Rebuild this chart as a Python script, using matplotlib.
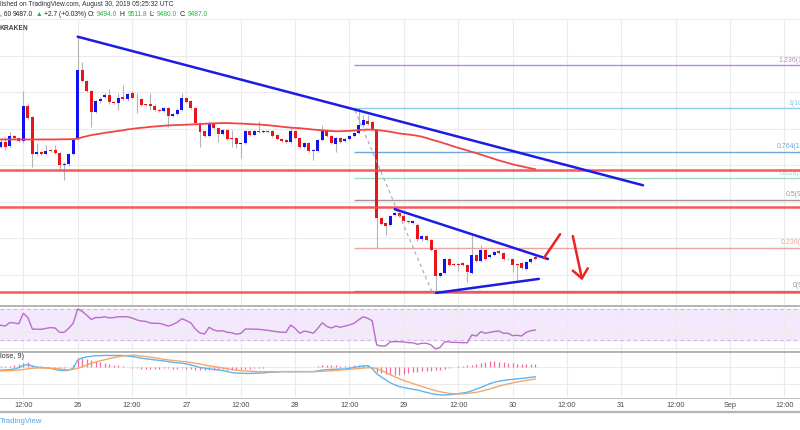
import matplotlib
matplotlib.use('Agg')
import matplotlib.pyplot as plt
from matplotlib.lines import Line2D
import numpy as np

plt.rcParams['font.family'] = ['Liberation Sans', 'DejaVu Sans']

# BTC/USD hourly candles on Kraken, Aug 25 07:00 .. Aug 30 05:00 UTC
opens = [10098, 10126, 10102, 10157, 10146, 10131, 10326, 10261, 10059, 10069,
         10062, 10083, 10084, 10066, 9998, 10004, 10062, 10144, 10518, 10459,
         10408, 10293, 10348, 10372, 10385, 10344, 10341, 10375, 10359, 10394,
         10363, 10363, 10332, 10336, 10326, 10303, 10295, 10314, 10268, 10281,
         10304, 10368, 10348, 10312, 10232, 10184, 10159, 10232, 10202, 10172,
         10190, 10150, 10150, 10113, 10120, 10184, 10162, 10184, 10182, 10184,
         10184, 10162, 10144, 10135, 10126, 10184, 10150, 10098, 10120, 10077,
         10077, 10135, 10190, 10157, 10117, 10150, 10131, 10144, 10159, 10175,
         10217, 10240, 10235, 10193, 9707, 9683, 9671, 9725, 9735, 9720,
         9694, 9683, 9674, 9592, 9611, 9589, 9534, 9392, 9410, 9483,
         9457, 9457, 9461, 9452, 9410, 9507, 9476, 9534, 9494, 9507,
         9530, 9516, 9486, 9486, 9457, 9461, 9429, 9470, 9494]
highs = [10140, 10153, 10180, 10165, 10152, 10403, 10332, 10266, 10119, 10076,
         10108, 10088, 10108, 10071, 10015, 10068, 10144, 10703, 10567, 10465,
         10413, 10355, 10370, 10397, 10419, 10350, 10392, 10436, 10396, 10408,
         10392, 10369, 10337, 10392, 10332, 10309, 10320, 10320, 10287, 10310,
         10397, 10375, 10354, 10318, 10238, 10190, 10240, 10238, 10208, 10196,
         10196, 10190, 10156, 10126, 10190, 10190, 10190, 10239, 10190, 10190,
         10190, 10168, 10150, 10141, 10201, 10190, 10156, 10126, 10126, 10090,
         10141, 10217, 10196, 10163, 10156, 10156, 10150, 10165, 10181, 10310,
         10272, 10272, 10241, 10199, 9713, 9689, 9726, 9741, 9741, 9753,
         9700, 9700, 9680, 9617, 9617, 9595, 9540, 9416, 9489, 9489,
         9463, 9463, 9467, 9458, 9616, 9513, 9561, 9540, 9513, 9531,
         9536, 9522, 9492, 9492, 9463, 9467, 9476, 9489, 9511.8]
lows = [10091, 10084, 10098, 10141, 10124, 10119, 10252, 9989, 10053, 10053,
        10057, 10073, 10062, 9971, 9916, 9993, 10057, 10139, 10455, 10400,
        10208, 10287, 10342, 10366, 10337, 10333, 10299, 10357, 10353, 10362,
        10283, 10324, 10322, 10299, 10297, 10289, 10289, 10208, 10262, 10275,
        10298, 10338, 10308, 10226, 10098, 10153, 10153, 10196, 10126, 10166,
        10138, 10098, 10091, 10037, 10114, 10157, 10157, 10175, 10177, 10175,
        10153, 10138, 10125, 10120, 10120, 10144, 10092, 10092, 10071, 10026,
        10071, 10129, 10151, 10114, 10071, 10120, 10125, 10138, 10153, 10169,
        10211, 10220, 10193, 9545, 9670, 9616, 9665, 9719, 9714, 9688,
        9683, 9677, 9586, 9586, 9583, 9528, 9310, 9386, 9404, 9446,
        9446, 9420, 9446, 9361, 9404, 9470, 9470, 9477, 9488, 9501,
        9510, 9477, 9477, 9415, 9370, 9428, 9423, 9464, 9480]
closes = [10126, 10098, 10157, 10146, 10131, 10326, 10259, 10059, 10069, 10059,
          10077, 10078, 10066, 10000, 10004, 10062, 10139, 10518, 10463, 10408,
          10293, 10348, 10363, 10381, 10343, 10339, 10368, 10363, 10390, 10368,
          10359, 10330, 10328, 10325, 10303, 10295, 10314, 10268, 10281, 10304,
          10368, 10344, 10314, 10232, 10180, 10159, 10232, 10202, 10172, 10190,
          10144, 10144, 10113, 10120, 10184, 10162, 10184, 10180, 10184, 10180,
          10159, 10144, 10131, 10126, 10184, 10150, 10098, 10120, 10077, 10084,
          10135, 10190, 10157, 10120, 10150, 10126, 10144, 10159, 10175, 10217,
          10244, 10226, 10199, 9707, 9676, 9665, 9720, 9735, 9720, 9694,
          9689, 9694, 9592, 9611, 9589, 9534, 9392, 9410, 9483, 9452,
          9452, 9452, 9452, 9415, 9507, 9476, 9534, 9483, 9507, 9525,
          9516, 9483, 9483, 9452, 9452, 9434, 9470, 9483, 9487]

# 100 hour moving average (red curve)
ma = [10140, 10140, 10140, 10140, 10140, 10140, 10140, 10140, 10140, 10140,
      10140, 10140, 10140, 10141, 10141, 10141, 10142, 10144, 10152, 10158,
      10164, 10168, 10172, 10176, 10180, 10183, 10187, 10190, 10195, 10198,
      10201, 10204, 10206, 10209, 10211, 10213, 10215, 10217, 10218, 10219,
      10220, 10221, 10222, 10223, 10224, 10226, 10227, 10228, 10229, 10230,
      10230, 10229, 10228, 10227, 10226, 10224, 10223, 10222, 10220, 10218,
      10215, 10213, 10210, 10207, 10205, 10203, 10202, 10199, 10197, 10194,
      10192, 10190, 10188, 10186, 10185, 10185, 10186, 10187, 10189, 10191,
      10193, 10194, 10194, 10192, 10189, 10186, 10182, 10178, 10173, 10170,
      10167, 10164, 10160, 10155, 10148, 10140, 10133, 10126, 10118, 10110,
      10102, 10094, 10087, 10080, 10072, 10065, 10057, 10049, 10041, 10033,
      10025, 10018, 10011, 10004, 9998, 9993, 9987, 9982, 9977]

rsi = [49, 48, 52.5, 52, 51, 64.5, 59, 44, 44, 43.8,
       45, 46, 45.5, 40, 40, 45, 51.5, 70, 67, 62,
       56.5, 59, 59, 60, 58.5, 59, 60, 60, 60, 58.4,
       56, 54.5, 54, 52, 51.5, 51.5, 50, 48, 50, 53,
       57.5, 55, 52, 44, 39, 37.8, 46.4, 43, 41.5, 42,
       40, 39.4, 37.4, 38.5, 44.2, 44.2, 44, 43.8, 43, 42.5,
       41.6, 40.7, 40, 40, 49.4, 45, 38.7, 41.5, 40.5, 38.7,
       45, 52.3, 47.5, 45.5, 48, 46.4, 48, 49.5, 51.5, 55.8,
       60, 58, 55, 23.6, 22.3, 22.3, 27.8, 27.8, 27.8, 27.5,
       26.5, 26.5, 24.5, 25.8, 25.8, 23.6, 18.4, 20.6, 27.8, 27.5,
       27, 26.8, 26.5, 26.5, 36.5, 35.2, 40.7, 38.7, 39.9, 41,
       41.6, 38.7, 38.7, 35.6, 36, 35.2, 39.9, 42, 42.9]

macd = [-19, -18, -17, -12, -6, 8, 13, 3, -3, -5,
        -7, -9, -15, -20, -22, -20, -8, 38, 51, 56,
        60, 62, 63, 64, 64, 64, 64, 64, 61, 58,
        54, 49, 45, 42, 39, 36, 33, 29, 25, 22,
        20, 16, 10, 3, -4, -8, -12, -15, -18, -22,
        -27, -33, -36, -37, -38, -38, -37, -36, -35, -32,
        -31, -30, -28, -28, -28, -28, -28, -28, -28, -28,
        -24, -19, -17, -15, -14, -13, -13, -9, -4, 1,
        4, 6, -10, -40, -58, -75, -91, -103, -113, -118,
        -123, -128, -132, -139, -146, -152, -157, -160, -161, -159,
        -157, -153, -149, -145, -137, -127, -118, -107, -96, -88,
        -82, -78, -74, -72, -69, -66, -64, -60, -57]
signal = [-24, -23, -22, -21, -19, -16, -12, -9, -7, -7,
          -8, -9, -10, -13, -16, -18, -15, -9, -1, 10,
          20, 27, 34, 40, 46, 52, 57, 61, 64, 65,
          64, 61, 58, 55, 51, 47, 42, 39, 36, 33,
          30, 28, 24, 19, 15, 10, 5, 1, -3, -7,
          -11, -16, -19, -22, -24, -26, -27, -28, -28, -28,
          -28, -28, -28, -28, -28, -28, -28, -28, -28, -28,
          -27, -26, -24, -23, -21, -19, -17, -15, -13, -10,
          -8, -6, -5, -11, -21, -33, -45, -57, -68, -78,
          -87, -96, -104, -112, -121, -129, -136, -142, -147, -151,
          -154, -155, -154, -152, -149, -145, -140, -133, -126, -118,
          -110, -104, -98, -92, -87, -82, -78, -74, -70]

# time axis (candle index, hour 0 = Aug 25 07:00)
time_ticks = [5, 17, 29, 41, 53, 65, 77, 89, 101, 113, 125, 137, 149, 161, 173]
time_labels = ['12:00', '26', '12:00', '27', '12:00', '28', '12:00', '29',
               '12:00', '30', '12:00', '31', '12:00', 'Sep', '12:00']

# fibonacci retracement drawn from the Aug 28 high to the Aug 29 low
fib_low, fib_high = 9310, 10310
fib_ratios = ['1.236', '1', '0.764', '0.618', '0.5', '0.236', '0']
fib_colors = ['#b98ad8', '#8ccbf0', '#6fa6da', '#9fdcbc', '#a39494', '#eea3a3', '#9a9a9a']
fib_label_x = [171.6, 174.0, 171.4, 172.0, 173.4, 172.3, 174.9]
fib_start = 78

support_levels = [9971, 9772, 9305]

trend_main = ([17, 141.8], [10703, 9889])
trend_upper = ([87.0, 120.8], [9758, 9485])
trend_lower = ([96.1, 118.8], [9299, 9376])
fib_swing = ([78.2, 95.2], [10299, 9305])
arrow_up = ([119.9, 123.5], [9490, 9621])
arrow_down = ([126.3, 128.3], [9611, 9379])
arrow_head = ([126.3, 128.3, 129.6], [9421, 9379, 9434])

# header pieces: text, colour
dark = '#222222'
green = '#27b445'
header_pieces = [(', 60', dark), ('9487.0', dark), ('\u25b2', green),
                 ('+2.7 (+0.03%)', dark), ('O:', dark), ('9494.0', green),
                 ('H:', dark), ('9511.8', green), ('L:', dark), ('9480.0', green),
                 ('C:', dark), ('9487.0', green)]

W, H = 800, 430
fig = plt.figure(figsize=(8, 4.3), dpi=100)


def box(top, bottom):
    return [0, 1 - bottom / H, 1, (bottom - top) / H]


def fy(py):
    return 1 - py / H


ax = fig.add_axes(box(19, 305))
ax_rsi = fig.add_axes(box(307, 351))
ax_macd = fig.add_axes(box(353, 397))

x = np.arange(len(closes))
for a in (ax, ax_rsi, ax_macd):
    a.set_xlim(-0.15, 176.45)
    for s in a.spines.values():
        s.set_visible(False)
    a.set_xticks(time_ticks)
    a.tick_params(length=0, labelleft=False, labelbottom=False)
    a.grid(True, color='#ebebeb', lw=0.8)
    a.set_axisbelow(True)

# ---- price pane
ax.set_ylim(9233, 10796)
ax.set_yticks(np.arange(9400, 10801, 200))

o = np.array(opens)
c = np.array(closes)
cols = np.where(c >= o, '#1212ee', '#e8161b')
ax.vlines(x, lows, highs, color='#b5b5b5', lw=0.8, zorder=2)
ax.bar(x, np.maximum(np.abs(c - o), 4), bottom=np.minimum(o, c), width=0.66,
       color=cols, linewidth=0, zorder=3)
ax.plot(x, ma, color='#f04545', lw=1.3, zorder=4)

for r, col, lx in zip(fib_ratios, fib_colors, fib_label_x):
    p = fib_low + float(r) * (fib_high - fib_low)
    ax.hlines(p, fib_start, 176.45, color=col, lw=1, zorder=1)
    ax.text(lx, p + 8, '%s(%.2f)' % (r, p), color=col, fontsize=5,
            va='bottom', ha='left', clip_on=True)

for p in support_levels:
    ax.axhline(p, color='#f24a4a', lw=1.8, alpha=0.9, zorder=5)

ax.plot(*fib_swing, color='#a8a8a8', lw=0.8, ls=(0, (3, 3)), zorder=5)
for ln in (trend_main, trend_upper, trend_lower):
    ax.plot(*ln, color='#1b1be6', lw=1.8, zorder=6, solid_capstyle='round')
for ln in (arrow_up, arrow_down, arrow_head):
    ax.plot(*ln, color='#ee2222', lw=1.8, zorder=6, solid_capstyle='round')

# ---- RSI pane
ax_rsi.set_ylim(15.8, 72.6)
ax_rsi.set_yticks([20, 40, 60])
ax_rsi.axhspan(30, 70, color='#f4e8fc', zorder=0)
for lvl in (30, 70):
    ax_rsi.axhline(lvl, color='#cdb8dc', lw=0.8, ls=(0, (3, 3)), zorder=1)
ax_rsi.plot(x, rsi, color='#b86dcb', lw=1, zorder=3)

# ---- MACD pane
ax_macd.set_ylim(-172, 78)
ax_macd.set_yticks([-100, 0])
hist = np.array(macd) - np.array(signal)
ax_macd.vlines(x, 0, hist, color='#f36b9b', lw=0.9, zorder=2)
ax_macd.plot(x, macd, color='#5cb5f2', lw=1, zorder=3)
ax_macd.plot(x, signal, color='#f7a66a', lw=1, zorder=3)
ax_macd.tick_params(labelbottom=True, labelsize=5.3, labelcolor='#4a4a4a', pad=3.5)
ax_macd.set_xticklabels(time_labels)
ax_macd.text(0, 1, 'lose, 9)', transform=ax_macd.transAxes, fontsize=5.3,
             color='#333333', va='top', ha='left')

# pane separators
for py, lw in ((306, 1.4), (352, 1.4), (398, 0.6), (412, 1.6)):
    fig.add_artist(Line2D([0, 1], [fy(py), fy(py)], color='#b3b3b3', lw=lw))

# header
fig.text(0, fy(5), 'lished on TradingView.com, August 30, 2019 05:25:32 UTC',
         fontsize=4.8, color='#333333', va='center')
renderer = fig.canvas.get_renderer()
px = 0
for s, col in header_pieces:
    t = fig.text(px / W, fy(14), s, fontsize=4.8, color=col, va='center')
    px = t.get_window_extent(renderer).x1 + 2
fig.text(-1 / W, fy(28.5), 'KRAKEN', fontsize=4.8, color='#444444', va='center',
         fontweight='bold')
fig.text(0, fy(421.5), 'TradingView', fontsize=5.5, color='#4aa8e8', va='center')

fig.savefig('out.png', dpi=100, facecolor='white')
